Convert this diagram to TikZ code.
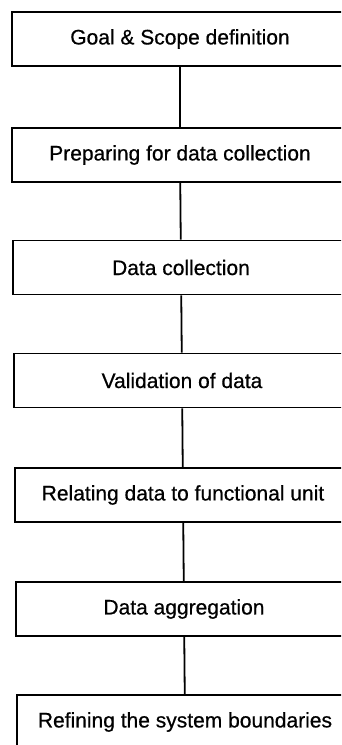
\documentclass[tikz,border=0pt]{standalone}
\usepackage{fontspec}
\setmainfont{Liberation Sans}
\newfontfamily\stagefont[FakeBold=0.6]{Liberation Sans}
\tikzset{
  stagebox/.style={draw, line width=1.8pt, minimum width=336pt, minimum height=54pt,
    inner sep=0pt, font=\stagefont\fontsize{21}{25}\selectfont},
  link/.style={line width=1.8pt}
}
\begin{document}
\begin{tikzpicture}[x=1pt, y=-1pt]
        \useasboundingbox (0,0) rectangle (341,745);
        \clip (0,0) rectangle (341,745);
        \node[stagebox] (goal) at (180,39) {Goal \& Scope definition};
        \node[stagebox] (prep) at (180,155) {Preparing for data collection};
        \node[stagebox] (coll) at (181,267.5) {Data collection};
        \node[stagebox] (valid) at (182,380.5) {Validation of data};
        \node[stagebox] (relate) at (183,495) {Relating data to functional unit};
        \node[stagebox] (aggr) at (184,609) {Data aggregation};
        \node[stagebox] (refine) at (185,722) {Refining the system boundaries};
        \draw[link] (goal) -- (prep);
        \draw[link] (prep) -- (coll);
        \draw[link] (coll) -- (valid);
        \draw[link] (valid) -- (relate);
        \draw[link] (relate) -- (aggr);
        \draw[link] (aggr) -- (refine);
    \end{tikzpicture}
\end{document}
